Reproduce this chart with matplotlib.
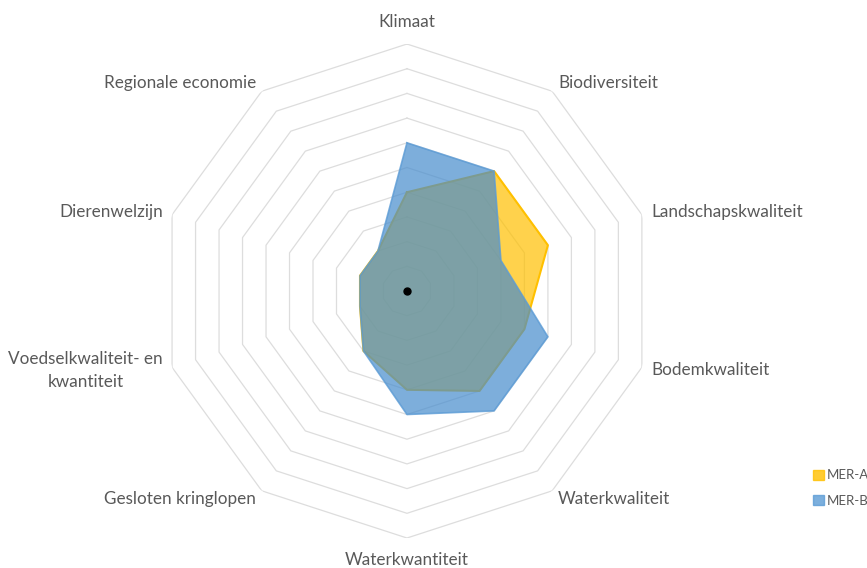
import numpy as np
import matplotlib.pyplot as plt
from matplotlib.patches import Patch

##-------------data----------------------------------------------
categories = ['Klimaat', 'Biodiversiteit', 'Landschapskwaliteit', 'Bodemkwaliteit',
              'Waterkwaliteit', 'Waterkwantiteit', 'Gesloten kringlopen',
              'Voedselkwaliteit- en\nkwantiteit', 'Dierenwelzijn', 'Regionale economie']
mer_a = [4, 6, 6, 5, 5, 4, 3, 2, 2, 2]
mer_b = [6, 6, 4, 6, 6, 5, 3, 2, 2, 2]
ring_levels = list(range(1, 11))
series_names = ['MER-A', 'MER-B']
##---------------------------------------------------------------

plt.rcParams['font.family'] = ['Lato', 'DejaVu Sans']
text_col = '#595959'

n = len(categories)
angles = np.linspace(0, 2 * np.pi, n, endpoint=False)
ang_closed = np.append(angles, angles[0])

fig = plt.figure(figsize=(8.67, 5.68), dpi=100)
ax = fig.add_axes([0.1845, 0.0528, 0.5698, 0.8697], projection='polar')
ax.set_theta_offset(np.pi / 2)
ax.set_theta_direction(-1)
ax.set_ylim(0, 10)
ax.grid(False)
ax.spines['polar'].set_visible(False)
ax.set_xticks([])
ax.set_yticks([])

# decagon gridlines
for r in ring_levels:
    ax.plot(ang_closed, [r] * (n + 1), color='#DDDDDD', lw=0.9, zorder=1)

# series
a_closed = mer_a + mer_a[:1]
b_closed = mer_b + mer_b[:1]
ax.fill(ang_closed, a_closed, color='#FFC000', alpha=0.7, lw=0, zorder=2)
ax.plot(ang_closed, a_closed, color='#FFC000', lw=1.5, zorder=2)
ax.fill(ang_closed, b_closed, color='#468CCD', alpha=0.7, lw=0, zorder=3)
ax.plot(ang_closed, b_closed, color='#5B9BD5', lw=1.2, alpha=0.8, zorder=3)

ax.plot(0, 0, 'o', color='black', ms=5, zorder=5)

# category labels
for ang, lab in zip(angles, categories):
    s = np.sin(ang)
    if abs(s) < 0.01:
        ax.text(ang, 10.88, lab, ha='center', va='center', fontsize=12.3,
                color=text_col, clip_on=False)
    else:
        ha = 'left' if s > 0 else 'right'
        ax.text(ang, 10.4, lab, ha=ha, va='center', fontsize=12.3,
                color=text_col, multialignment='center', linespacing=1.55,
                clip_on=False)

# legend
handles = [Patch(facecolor='#FFC000', edgecolor='#FFC000', alpha=0.8),
           Patch(facecolor='#5B9BD5', edgecolor='#5B9BD5', alpha=0.8)]
leg = fig.legend(handles, series_names, loc='upper left', bbox_to_anchor=(0.938, 0.174),
                 frameon=False, fontsize=9.5, handlelength=0.8, handleheight=0.8,
                 handletextpad=0.2, labelspacing=1.05, borderaxespad=0, borderpad=0)
for t in leg.get_texts():
    t.set_color(text_col)

fig.savefig('out.png', dpi=100)
